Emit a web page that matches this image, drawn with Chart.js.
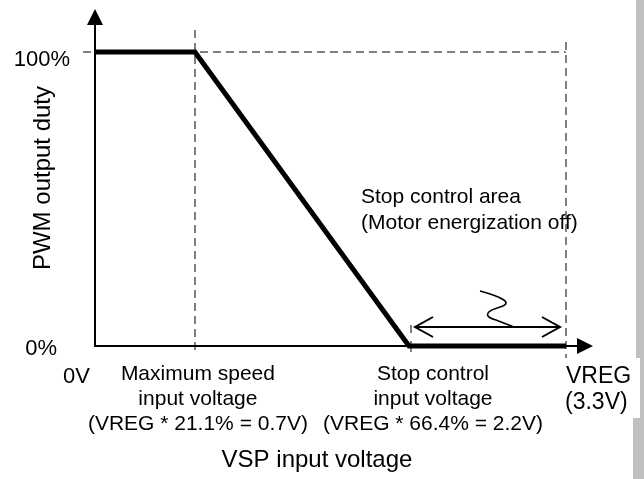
<!DOCTYPE html>
<html>
<head>
<meta charset="utf-8">
<script src="https://cdn.jsdelivr.net/npm/chart.js@4"></script>
<style>
  html, body { margin: 0; padding: 0; background: #fff; }
  canvas { display: block; }
</style>
</head>
<body>
<canvas id="chart" width="644" height="479"></canvas>
<script>
// VSP input voltage (V) -> PWM output duty (%)
var voltages = [0, 0.7, 2.2, 3.3];
var dutyPercent = [100, 100, 0, 0];

var guideVoltages = [0.7, 3.3];
var stopVoltage = 2.2;
var vregVoltage = 3.3;

var yTickValues = [100, 0];
var yTickLabels = ["100%", "0%"];
var xTickLabels = [
  ["0V"],
  ["Maximum speed", "input voltage", "(VREG * 21.1% = 0.7V)"],
  ["Stop control", "input voltage", "(VREG * 66.4% = 2.2V)"],
  ["VREG", "(3.3V)"]
];
var areaLabel = ["Stop control area", "(Motor energization off)"];
var xTitle = "VSP input voltage";
var yTitle = "PWM output duty";

var FONT = '"Liberation Sans", Arial, sans-serif';
var GUIDE = "#7f7f7f";

function line(ctx, x1, y1, x2, y2) {
  ctx.beginPath();
  ctx.moveTo(x1, y1);
  ctx.lineTo(x2, y2);
  ctx.stroke();
}

var diagramPlugin = {
  id: "diagram",
  beforeDraw: function(chart) {
    var ctx = chart.ctx;
    // grey page edge on the right
    ctx.save();
    ctx.fillStyle = "#c0c0c0";
    ctx.fillRect(636, 0, 8, 358);
    ctx.fillRect(640, 358, 4, 60);
    ctx.fillRect(633, 418, 11, 61);
    ctx.restore();
  },
  beforeDatasetsDraw: function(chart) {
    var ctx = chart.ctx;
    var xs = chart.scales.x, ys = chart.scales.y;
    var x0 = Math.round(xs.getPixelForValue(0));
    var y0 = Math.round(ys.getPixelForValue(0));
    var y100 = Math.round(ys.getPixelForValue(100));
    var xEnd = Math.round(xs.getPixelForValue(vregVoltage));

    ctx.save();
    // dashed guides
    ctx.strokeStyle = GUIDE;
    ctx.lineWidth = 2;
    ctx.setLineDash([8, 5]);
    line(ctx, x0 - 12, y100, xEnd, y100);
    var g1 = Math.round(xs.getPixelForValue(guideVoltages[0]));
    line(ctx, g1, y100 - 22, g1, y0 + 6);
    var g2 = Math.round(xs.getPixelForValue(guideVoltages[1]));
    line(ctx, g2, y100 - 10, g2, y0 + 12);
    var gs = Math.round(xs.getPixelForValue(stopVoltage));
    ctx.setLineDash([]);
    line(ctx, gs + 2, y0 - 21, gs + 2, y0 - 13);
    line(ctx, gs + 2, y0 - 5, gs + 2, y0 + 6);

    // axes with arrows
    ctx.strokeStyle = "#000";
    ctx.fillStyle = "#000";
    ctx.lineWidth = 2;
    line(ctx, x0, y0 + 1, x0, y100 - 28);
    ctx.beginPath();
    ctx.moveTo(x0, y100 - 43);
    ctx.lineTo(x0 - 8, y100 - 27);
    ctx.lineTo(x0 + 8, y100 - 27);
    ctx.closePath();
    ctx.fill();
    line(ctx, x0 - 1, y0, xEnd + 12, y0);
    ctx.beginPath();
    ctx.moveTo(xEnd + 27, y0);
    ctx.lineTo(xEnd + 11, y0 - 8);
    ctx.lineTo(xEnd + 11, y0 + 8);
    ctx.closePath();
    ctx.fill();

    // double arrow over the stop control area
    var ay = y0 - 19;
    var ax1 = gs + 6, ax2 = xEnd - 6;
    ctx.lineWidth = 2;
    line(ctx, ax1, ay, ax2, ay);
    ctx.beginPath();
    ctx.moveTo(ax1 + 18, ay - 10);
    ctx.lineTo(ax1, ay);
    ctx.lineTo(ax1 + 18, ay + 10);
    ctx.moveTo(ax2 - 18, ay - 10);
    ctx.lineTo(ax2, ay);
    ctx.lineTo(ax2 - 18, ay + 10);
    ctx.stroke();

    // squiggle pointing at the area
    var sx = gs + 71, sy = y0 - 55;
    ctx.lineWidth = 1.6;
    ctx.beginPath();
    ctx.moveTo(sx, sy);
    ctx.bezierCurveTo(sx + 22, sy + 6, sx + 34, sy + 12, sx + 20, sy + 16);
    ctx.bezierCurveTo(sx + 3, sy + 21, sx + 5, sy + 26, sx + 16, sy + 29);
    ctx.lineTo(sx + 34, sy + 36);
    ctx.stroke();
    ctx.restore();
  },
  afterDraw: function(chart) {
    var ctx = chart.ctx;
    var xs = chart.scales.x, ys = chart.scales.y;
    var y0 = ys.getPixelForValue(0);
    ctx.save();
    ctx.fillStyle = "#000";
    ctx.textBaseline = "alphabetic";

    // y tick labels
    ctx.font = "22px " + FONT;
    ctx.textAlign = "right";
    ctx.fillText(yTickLabels[0], 70, ys.getPixelForValue(yTickValues[0]) + 14);
    ctx.fillText(yTickLabels[1], 57, ys.getPixelForValue(yTickValues[1]) + 9);

    // x tick labels
    ctx.fillText(xTickLabels[0][0], xs.getPixelForValue(voltages[0]) - 5, y0 + 37);
    ctx.font = "21px " + FONT;
    ctx.textAlign = "center";
    var c1 = xs.getPixelForValue(voltages[1]) + 3;
    var c2 = xs.getPixelForValue(voltages[2]) + 24;
    for (var i = 0; i < 3; i++) {
      ctx.fillText(xTickLabels[1][i], c1, y0 + 34 + i * 25);
      ctx.fillText(xTickLabels[2][i], c2, y0 + 34 + i * 25);
    }
    ctx.font = "23px " + FONT;
    ctx.textAlign = "left";
    var vx = xs.getPixelForValue(voltages[3]);
    ctx.fillText(xTickLabels[3][0], vx, y0 + 37);
    ctx.fillText(xTickLabels[3][1], vx - 1, y0 + 63);

    // annotation
    ctx.font = "21px " + FONT;
    ctx.fillText(areaLabel[0], 361, 203);
    ctx.fillText(areaLabel[1], 361, 229);

    // axis titles
    ctx.font = "24px " + FONT;
    ctx.textAlign = "center";
    ctx.fillText(xTitle, 317, 467);
    ctx.translate(50, 178);
    ctx.rotate(-Math.PI / 2);
    ctx.fillText(yTitle, 0, 0);
    ctx.restore();
  }
};

var points = voltages.map(function(v, i) {
  return { x: v, y: dutyPercent[i] };
});

new Chart(document.getElementById("chart").getContext("2d"), {
  type: "line",
  data: {
    datasets: [
      {
        data: points,
        borderColor: "#000",
        borderWidth: 5,
        pointRadius: 0,
        tension: 0,
        fill: false,
        clip: false,
        borderCapStyle: "butt",
        borderJoinStyle: "miter"
      }
    ]
  },
  options: {
    responsive: false,
    animation: false,
    devicePixelRatio: 1,
    layout: { padding: { left: 95, right: 78, top: 52, bottom: 133 } },
    plugins: { legend: { display: false }, tooltip: { enabled: false } },
    scales: {
      x: { type: "linear", min: 0, max: 3.3, display: false },
      y: { type: "linear", min: 0, max: 100, display: false }
    }
  },
  plugins: [diagramPlugin]
});
</script>
</body>
</html>
